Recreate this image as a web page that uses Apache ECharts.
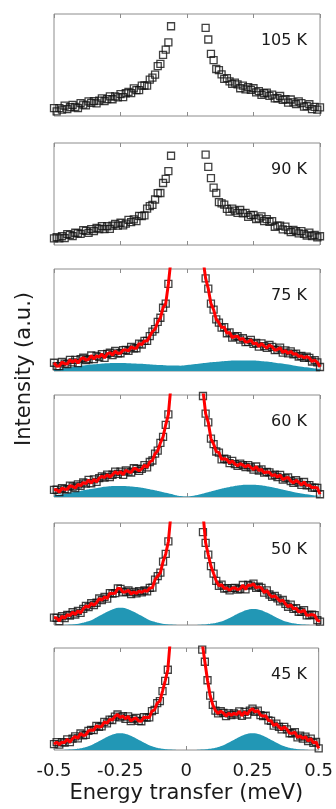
<!DOCTYPE html>
<html>
<head>
<meta charset="utf-8">
<script src="https://cdn.jsdelivr.net/npm/echarts@6/dist/echarts.min.js"></script>
<style>
html, body { margin: 0; padding: 0; background: #fff; }
#chart { width: 336px; height: 809px; }
</style>
</head>
<body>
<div id="chart"></div>
<script>
// energy grid of the data points (meV)
const energy = [
  -0.50, -0.49, -0.48, -0.47, -0.46, -0.45, -0.44, -0.43, -0.42, -0.41,
  -0.40, -0.39, -0.38, -0.37, -0.36, -0.35, -0.34, -0.33, -0.32, -0.31,
  -0.30, -0.29, -0.28, -0.27, -0.26, -0.25, -0.24, -0.23, -0.22, -0.21,
  -0.20, -0.19, -0.18, -0.17, -0.16, -0.15, -0.14, -0.13, -0.12, -0.11,
  -0.10, -0.09, -0.08, -0.07, -0.06, -0.05, -0.04, -0.03, -0.02, -0.01,
  0.00, 0.01, 0.02, 0.03, 0.04, 0.05, 0.06, 0.07, 0.08, 0.09,
  0.10, 0.11, 0.12, 0.13, 0.14, 0.15, 0.16, 0.17, 0.18, 0.19,
  0.20, 0.21, 0.22, 0.23, 0.24, 0.25, 0.26, 0.27, 0.28, 0.29,
  0.30, 0.31, 0.32, 0.33, 0.34, 0.35, 0.36, 0.37, 0.38, 0.39,
  0.40, 0.41, 0.42, 0.43, 0.44, 0.45, 0.46, 0.47, 0.48, 0.49, 0.50
]
// energy grid of the fitted peaks
const peakEnergy = [
  -0.5, -0.475, -0.45, -0.425, -0.4, -0.375, -0.35, -0.325, -0.3, -0.275,
  -0.25, -0.225, -0.2, -0.175, -0.15, -0.125, -0.1, -0.075, -0.05, -0.025,
  0, 0.025, 0.05, 0.075, 0.1, 0.125, 0.15, 0.175, 0.2, 0.225,
  0.25, 0.275, 0.3, 0.325, 0.35, 0.375, 0.4, 0.425, 0.45, 0.475, 0.5
]
const xTicks = [-0.5, -0.25, 0, 0.25, 0.5]
const labels = ['105 K', '90 K', '75 K', '60 K', '50 K', '45 K']

// measured intensity (a.u., 0-100 of each panel)
const data105 = [
  7.7, 4.5, 7.8, 6.2, 10.1, 6.7, 8.6, 11.0, 8.8, 7.8,
  12.6, 11.1, 10.4, 14.4, 12.8, 14.6, 12.4, 15.0, 17.3, 14.7,
  16.5, 19.2, 16.4, 19.2, 18.3, 21.5, 18.5, 22.3, 23.7, 22.5,
  27.0, 25.3, 25.3, 29.7, 29.9, 29.8, 35.7, 37.6, 40.5, 48.9,
  51.2, 60.0, 65.0, 72.1,
  88, null, null, null, null, null, null, null, null, null, null, null, null,
  86.4, 75.0, 61.0, 54.8, 46.1, 45.0, 40.9, 36.3, 37.2, 33.9,
  31.4, 32.8, 31.0, 27.2, 29.8, 26.2, 28.2, 25.7, 27.2, 23.1,
  24.4, 20.8, 22.3, 22.9, 19.7, 21.0, 17.2, 17.4, 19.6, 15.8,
  16.6, 13.1, 16.2, 13.4, 11.6, 14.3, 12.7, 9.1, 9.7, 11.5,
  6.7, 9.0, 6.2, 8.5
]
const data90 = [
  6.4, 7.6, 6.5, 8.6, 6.7, 10.7, 9.9, 8.7, 12.0, 11.3,
  10.9, 14.6, 13.8, 11.9, 15.5, 13.7, 16.8, 15.7, 18.6, 15.7,
  18.4, 15.8, 18.9, 20.7, 18.9, 21.8, 19.2, 21.0, 24.6, 22.4,
  25.1, 23.5, 28.6, 28.3, 29.1, 35.7, 38.1, 39.4, 44.6, 50.9,
  51.0, 60.8, 64.8, 72.5,
  87.5, null, null, null, null, null, null, null, null, null, null, null, null,
  88.7, 76.5, 65.6, 56.2, 51.0, 42.1, 40.9, 39.6, 35.4, 32.8,
  35.6, 33.7, 31.4, 34.3, 31.0, 31.5, 27.6, 29.3, 29.4, 25.5,
  26.2, 28.0, 23.5, 25.3, 22.6, 23.5, 17.9, 19.0, 18.9, 15.4,
  18.0, 14.5, 12.7, 14.9, 13.5, 11.3, 13.7, 11.0, 9.3, 12.1,
  8.8, 10.0, 7.4, 8.6
]
const data75 = [
  8.1, 4.7, 4.8, 8.8, 7.2, 6.8, 10.9, 8.4, 11.0, 7.8,
  11.7, 13.0, 10.7, 11.5, 15.2, 11.7, 14.9, 13.7, 16.6, 12.9,
  16.7, 17.9, 15.6, 19.6, 17.3, 17.4, 20.5, 20.7, 19.8, 23.7,
  22.2, 22.3, 26.9, 26.0, 29.5, 29.5, 34.1, 38.7, 41.0, 48.1,
  52.2, 62.0, 66.1, 85.4,
  null, null, null, null, null, null, null, null, null, null, null, null, null,
  90.8, 80.7, 66.0, 60.2, 50.7, 47.4, 42.5, 43.1, 37.0, 37.9,
  32.8, 33.8, 34.2, 30.7, 32.1, 28.4, 28.6, 30.6, 26.5, 27.6,
  23.9, 27.0, 24.4, 22.6, 25.6, 23.7, 20.4, 21.0, 22.9, 18.0,
  20.2, 17.2, 19.3, 16.4, 17.0, 14.2, 14.8, 12.9, 14.1, 12.9,
  9.3, 10.6, 8.5, 3.9
]
const data60 = [
  7.0, 7.2, 4.7, 8.7, 7.6, 7.5, 11.2, 10.3, 8.8, 12.4,
  11.0, 14.2, 13.1, 16.7, 13.5, 17.3, 14.8, 18.5, 20.3, 19.1,
  21.9, 19.6, 21.8, 24.8, 22.6, 24.8, 21.7, 26.2, 24.8, 24.0,
  28.2, 27.5, 25.6, 27.6, 31.3, 29.0, 34.3, 35.8, 42.5, 45.4,
  53.0, 59.0, 70.8, 81.1,
  null, null, null, null, null, null, null, null, null, null, null, null, 99,
  81.7, 73.2, 57.3, 51.9, 44.6, 43.5, 36.9, 37.5, 36.8, 33.2,
  35.4, 32.3, 30.6, 32.7, 31.3, 29.4, 31.3, 29.0, 26.9, 29.9,
  26.0, 27.0, 23.8, 24.6, 24.2, 20.9, 21.8, 19.6, 21.6, 17.1,
  18.4, 19.2, 15.7, 13.8, 16.4, 14.4, 11.8, 14.7, 11.4, 11.6,
  9.2, 9.2, 9.0, 2.7
]
const data50 = [
  7.3, 6.9, 3.8, 8.6, 6.7, 10.0, 9.3, 12.5, 10.3, 13.9,
  11.8, 15.9, 18.7, 17.5, 21.3, 19.4, 21.8, 26.0, 24.4, 27.6,
  25.9, 31.2, 30.8, 31.2, 36.0, 35.5, 32.0, 32.6, 33.9, 30.4,
  32.4, 31.0, 33.3, 32.0, 33.8, 33.0, 36.3, 36.6, 44.5, 47.9,
  51.3, 62.2, 69.7, 81.9,
  null, null, null, null, null, null, null, null, null, null, null, null, 91,
  80.6, 68.9, 57.8, 50.4, 43.2, 38.4, 39.6, 35.8, 36.2, 34.0,
  36.2, 36.4, 34.7, 35.5, 39.2, 34.9, 39.3, 38.7, 40.5, 36.3,
  37.5, 36.3, 31.8, 34.0, 29.9, 27.6, 28.5, 26.1, 23.2, 24.5,
  20.8, 17.9, 19.9, 15.8, 16.4, 13.0, 13.0, 14.6, 9.5, 9.8,
  10.2, 9.6, 4.7, 3.4
]
const data45 = [
  5.7, 7.8, 5.3, 7.7, 7.3, 10.5, 7.7, 11.1, 13.3, 11.4,
  16.2, 14.3, 14.8, 18.7, 19.7, 19.4, 23.7, 22.6, 23.1, 27.5,
  26.2, 29.8, 29.4, 32.8, 34.8, 31.9, 33.2, 30.6, 33.0, 28.3,
  30.4, 31.4, 28.5, 28.2, 32.2, 31.8, 31.9, 38.1, 39.4, 46.0,
  48.0, 57.8, 67.8, 78.7,
  null, null, null, null, null, null, null, null, null, null, null, null, 98.5,
  86.5, 68.4, 53.3, 44.2, 38.7, 35.9, 38.0, 36.3, 33.2, 36.0,
  34.1, 36.0, 34.7, 37.9, 33.5, 37.3, 34.8, 38.7, 40.5, 37.3,
  38.7, 34.2, 33.2, 33.6, 29.0, 28.6, 23.9, 25.8, 22.6, 20.2,
  22.6, 20.3, 16.4, 16.4, 17.5, 12.4, 14.0, 11.2, 13.1, 8.8,
  11.2, 7.0, 8.0, 1.6
]

// fit values in the elastic region (-0.06 .. 0.06), above the panel top
const fitCore75 = [110, 200, null, null, null, null, null, null, null, null, null, 200, 110]
const fitCore60 = [110, 200, null, null, null, null, null, null, null, null, null, 200, 105]
const fitCore50 = [110, 200, null, null, null, null, null, null, null, null, null, 200, 110]
const fitCore45 = [110, 200, null, null, null, null, null, null, null, null, null, 200, 105]

// inelastic peaks (filled)
const peaks75 = [
  1.5, 2.3, 3.2, 4.1, 5.0, 5.8, 6.5, 7.1, 7.5, 7.8,
  7.8, 7.7, 7.4, 7.0, 6.6, 6.2, 5.8, 5.5, 5.3, 5.2,
  5.8, 6.6, 7.4, 8.1, 8.8, 9.4, 9.8, 10.2, 10.4, 10.4,
  10.2, 9.8, 9.2, 8.4, 7.5, 6.5, 5.5, 4.5, 3.6, 2.7, 2.0
]
const peaks60 = [
  1.5, 2.5, 3.5, 4.8, 6.0, 7.3, 8.4, 9.4, 10.2, 10.7,
  10.8, 10.6, 10.1, 9.3, 8.2, 6.9, 5.4, 3.8, 2.3, 1.0,
  0.4, 1.2, 2.6, 4.3, 6.1, 7.8, 9.3, 10.6, 11.5, 12.0,
  11.9, 11.4, 10.5, 9.3, 7.9, 6.4, 5.0, 3.7, 2.6, 1.7, 1.1
]
const peaks50 = [
  0.0, 0.1, 0.3, 0.7, 1.7, 3.4, 6.0, 9.5, 13.0, 15.8,
  16.8, 15.8, 13.0, 9.5, 6.0, 3.4, 1.7, 0.7, 0.3, 0.1,
  0.1, 0.1, 0.3, 0.7, 1.6, 3.2, 5.7, 8.9, 12.2, 14.8,
  15.8, 14.8, 12.2, 8.9, 5.7, 3.2, 1.6, 0.7, 0.3, 0.1, 0.0
]
const peaks45 = [
  0.1, 0.1, 0.3, 0.7, 1.7, 3.3, 5.9, 9.2, 12.7, 15.4,
  16.4, 15.4, 12.7, 9.2, 5.9, 3.3, 1.7, 0.7, 0.3, 0.1,
  0.1, 0.1, 0.3, 0.7, 1.7, 3.3, 5.9, 9.2, 12.7, 15.4,
  16.4, 15.4, 12.7, 9.2, 5.9, 3.3, 1.7, 0.7, 0.3, 0.1, 0.1
]

const panels = [
  { data: data105 },
  { data: data90 },
  { data: data75, core: fitCore75, peaks: peaks75 },
  { data: data60, core: fitCore60, peaks: peaks60 },
  { data: data50, core: fitCore50, peaks: peaks50 },
  { data: data45, core: fitCore45, peaks: peaks45 },
]

const tops = [14, 143, 269, 395, 523, 648]
const panelH = 102
const frameColor = '#8c8c8c'
const textColor = '#1a1a1a'
const font = 'DejaVu Sans'

let grid = [], xAxis = [], yAxis = [], series = [], graphic = []

panels.forEach((p, i) => {
  let last = i === panels.length - 1
  grid.push({
    left: 54, top: tops[i], width: 266, height: panelH,
    show: true, borderColor: frameColor, borderWidth: 1,
  })
  ;['bottom', 'top'].forEach((pos) => {
    let bottom = pos === 'bottom'
    xAxis.push({
      type: 'value', gridIndex: i, position: pos,
      min: xTicks[0], max: xTicks[xTicks.length - 1], interval: 0.25,
      axisLine: { show: false },
      axisTick: { show: true, inside: true, length: 4, lineStyle: { color: frameColor } },
      splitLine: { show: false },
      axisLabel: {
        show: last && bottom, margin: 12,
        color: textColor, fontFamily: font, fontSize: 18,
      },
      name: last && bottom ? 'Energy transfer (meV)' : '',
      nameLocation: 'middle', nameGap: 33,
      nameTextStyle: { color: textColor, fontFamily: font, fontSize: 21 },
    })
  })
  yAxis.push({ type: 'value', gridIndex: i, min: 0, max: 100, show: false })

  if (p.peaks) {
    series.push({
      type: 'line', xAxisIndex: 2 * i, yAxisIndex: i, z: 1,
      smooth: true, symbol: 'none',
      lineStyle: { width: 0 },
      areaStyle: { color: '#2297b5', opacity: 1 },
      data: peakEnergy.map((e, k) => [e, p.peaks[k]]),
    })
  }
  series.push({
    type: 'scatter', xAxisIndex: 2 * i, yAxisIndex: i, z: 2,
    symbol: 'rect', symbolSize: 7,
    itemStyle: { color: 'rgba(0,0,0,0)', borderColor: '#111', borderWidth: 1.3 },
    data: energy.map((e, k) => [e, p.data[k]]).filter((d) => d[1] != null),
  })
  if (p.core) {
    series.push({
      type: 'line', xAxisIndex: 2 * i, yAxisIndex: i, z: 3,
      symbol: 'none', connectNulls: false, clip: true,
      lineStyle: { color: '#ff0000', width: 3 },
      data: energy.map((e, k) => [e, k >= 44 && k <= 56 ? p.core[k - 44] : p.data[k]]),
    })
  }
  graphic.push({
    type: 'text', x: 307, y: tops[i] + 27,
    style: {
      text: labels[i], fill: textColor, font: '16px "DejaVu Sans"',
      textAlign: 'right', textVerticalAlign: 'middle', align: 'right', verticalAlign: 'middle',
    },
  })
})

graphic.push({
  type: 'text', x: 25, y: 369, rotation: Math.PI / 2,
  style: {
    text: 'Intensity (a.u.)', fill: textColor, font: '21px "DejaVu Sans"',
    textAlign: 'center', textVerticalAlign: 'middle', align: 'center', verticalAlign: 'middle',
  },
})

let myChart = echarts.init(document.getElementById('chart'))
myChart.setOption({
  animation: false,
  backgroundColor: '#fff',
  grid: grid,
  xAxis: xAxis,
  yAxis: yAxis,
  series: series,
  graphic: graphic,
})
</script>
</body>
</html>
